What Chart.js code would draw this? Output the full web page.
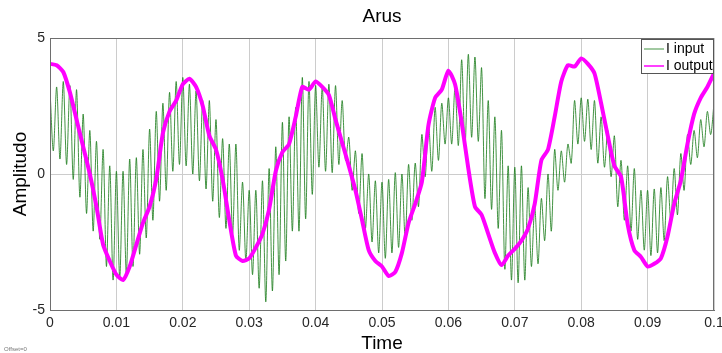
<!DOCTYPE html>
<html>
<head>
<meta charset="utf-8">
<script src="https://cdn.jsdelivr.net/npm/chart.js@4.4.1/dist/chart.umd.min.js"></script>
<style>
  html, body { margin: 0; padding: 0; background: #fff; }
</style>
</head>
<body>
<canvas id="arusChart" width="722" height="353"></canvas>
<script>
// Axis ticks
const timeTicks = [0, 0.01, 0.02, 0.03, 0.04, 0.05, 0.06, 0.07, 0.08, 0.09, 0.1];
const ampTicks = [-5, 0, 5];

// I input - tops of the fast ripple, one per ms (t = 0 .. 0.1)
const inputTops = [
  3.1, 3.2, 3.4, 3.25, 3.1, 2.2, 1.6, 1.2, 0.9, 0.3,
  0.1, 0.1, 0.55, 0.6, 0.9, 1.65, 2.3, 2.6, 3.0, 3.4,
  3.55, 3.3, 3.05, 2.7, 2.7, 2.0, 1.3, 1.1, 1.1, -0.3,
  -0.6, -0.6, -0.25, 0.2, 1.0, 1.9, 2.1, 2.45, 3.55, 3.4,
  3.25, 3.2, 3.3, 3.25, 2.7, 1.35, 0.85, 0.75, 0.0, -0.25,
  -0.3, -0.2, 0.05, 0.0, 0.35, 0.4, 1.45, 1.9, 2.45, 2.6,
  2.8, 3.2, 4.2, 4.4, 4.3, 3.9, 2.7, 2.1, 1.6, 0.3,
  0.25, 0.3, -0.5, -1.2, -0.9, 0.0, 0.9, 0.85, 1.1, 2.7,
  2.8, 2.75, 2.7, 2.1, 1.6, 1.4, 0.5, 0.3, 0.2, -0.6,
  -0.6, -0.55, -0.5, -0.1, 0.2, 0.75, 1.45, 1.6, 2.0, 2.3,
  2.6
];
// I input - bottoms of the fast ripple, half a ms after each top
const inputBottoms = [
  0.85, 0.55, 0.35, -0.2, -0.85, -1.45, -2.1, -2.4, -3.4, -3.9,
  -3.85, -3.7, -3.4, -2.95, -2.35, -1.7, -1.0, -0.6, 0.1, 0.35,
  0.3, 0.0, -0.25, -0.55, -1.0, -1.6, -2.0, -2.2, -2.8, -3.2,
  -3.7, -4.2, -4.7, -4.3, -3.7, -3.2, -2.1, -2.1, -1.65, -0.75,
  0.25, 0.1, 0.05, 0.35, 0.5, -0.6, -1.45, -2.0, -2.5, -2.9,
  -3.1, -2.9, -2.7, -2.4, -1.7, -1.2, -0.1, 0.1, 0.5, 1.1,
  1.1, 1.05, 1.0, 1.35, 1.2, -0.9, -1.3, -2.0, -3.5, -3.9,
  -4.0, -3.9, -3.4, -3.3, -2.45, -2.1, -0.6, -0.3, 0.4, 1.1,
  1.2, 0.9, 0.4, 0.25, -0.1, -1.2, -1.7, -2.1, -2.4, -2.8,
  -3.0, -2.9, -2.45, -1.7, -1.5, -0.6, 0.35, 0.6, 1.0, 1.45
];
// I output, one value per ms (t = 0 .. 0.1)
const outputVals = [
  4.05, 4.0, 3.75, 3.0, 2.0, 1.0, 0.0, -1.2, -2.6, -3.2,
  -3.7, -3.9, -3.4, -2.6, -1.8, -1.2, -0.2, 1.5, 2.3, 2.7,
  3.3, 3.5, 3.2, 2.5, 1.4, 0.9, -0.2, -1.7, -3.0, -3.2,
  -3.1, -2.7, -2.2, -1.3, 0.1, 0.8, 1.1, 2.1, 3.2, 3.1,
  3.4, 3.2, 2.9, 2.0, 1.15, 0.3, -0.6, -1.7, -2.8, -3.2,
  -3.4, -3.75, -3.6, -2.9, -1.8, -1.1, -0.3, 1.8, 2.8, 3.1,
  3.8, 3.3, 1.9, 0.2, -1.2, -1.5, -2.2, -2.9, -3.35, -3.0,
  -2.75, -2.45, -2.0, -1.1, 0.5, 0.9, 2.1, 3.4, 4.0, 3.95,
  4.25, 4.05, 3.7, 2.6, 1.4, 0.3, -0.1, -1.85, -2.8, -3.05,
  -3.4, -3.3, -3.1, -2.3, -1.1, -0.25, 1.1, 2.2, 2.8, 3.2,
  3.7
];

const step = 0.001;
const inputPts = [];
inputTops.forEach((v, i) => {
  inputPts.push({ x: i * step, y: v });
  if (i < inputBottoms.length) inputPts.push({ x: i * step + step / 2, y: inputBottoms[i] });
});
const outputPts = outputVals.map((v, i) => ({ x: i * step, y: v }));

const inputColor = 'rgba(20, 120, 20, 0.8)';
const outputColor = '#ff00ff';
const fontFam = '"Liberation Sans", Arial, sans-serif';

// frame, title and legend drawn on top like the matlab figure
const figurePlugin = {
  id: 'figure',
  afterDraw(chart) {
    const { ctx, chartArea: a } = chart;
    ctx.save();
    ctx.strokeStyle = '#6e6e6e';
    ctx.lineWidth = 1;
    ctx.strokeRect(a.left + 0.5, a.top + 0.5, a.right - a.left - 1, a.bottom - a.top);

    ctx.fillStyle = '#000';
    ctx.font = '19px ' + fontFam;
    ctx.textAlign = 'center';
    ctx.textBaseline = 'middle';
    ctx.fillText('Arus', (a.left + a.right) / 2, 17);

    // legend box
    const w = 73, h = 35;
    const lx = a.right - w, ly = a.top + 1;
    ctx.fillStyle = '#fff';
    ctx.fillRect(lx, ly, w, h);
    ctx.strokeStyle = '#555';
    ctx.strokeRect(lx + 0.5, ly + 0.5, w - 1, h - 1);
    const rows = [['I input', inputColor, 1], ['I output', outputColor, 1.5]];
    ctx.font = '14px ' + fontFam;
    ctx.textAlign = 'left';
    rows.forEach((r, k) => {
      const yy = ly + 10 + k * 17;
      ctx.strokeStyle = r[1];
      ctx.lineWidth = r[2];
      ctx.beginPath();
      ctx.moveTo(lx + 3, yy);
      ctx.lineTo(lx + 23, yy);
      ctx.stroke();
      ctx.fillStyle = '#000';
      ctx.fillText(r[0], lx + 25, yy);
    });

    ctx.fillStyle = '#777';
    ctx.font = '6px ' + fontFam;
    ctx.fillText('Offset=0', 4, 349);
    ctx.restore();
  }
};

const ctx = document.getElementById('arusChart').getContext('2d');
const arusChart = new Chart(ctx, {
  type: 'line',
  data: {
    datasets: [
      {
        label: 'I input',
        data: inputPts,
        borderColor: inputColor,
        borderWidth: 1,
        pointRadius: 0,
        tension: 0.3,
        order: 2
      },
      {
        label: 'I output',
        data: outputPts,
        borderColor: outputColor,
        borderWidth: 4,
        pointRadius: 0,
        tension: 0.2,
        order: 1
      }
    ]
  },
  options: {
    responsive: false,
    animation: false,
    devicePixelRatio: 1,
    layout: { padding: { top: 38, right: 8 } },
    plugins: {
      legend: { display: false },
      title: { display: false },
      tooltip: { enabled: false }
    },
    scales: {
      x: {
        type: 'linear',
        min: 0,
        max: 0.1,
        afterBuildTicks: s => { s.ticks = timeTicks.map(v => ({ value: v })); },
        afterFit: s => { s.height = 43; s.paddingRight = 0; s.paddingLeft = 0; },
        ticks: {
          callback: v => String(+v.toFixed(2)),
          font: { family: fontFam, size: 14 },
          color: '#262626',
          padding: 5,
          maxRotation: 0,
          autoSkip: false
        },
        grid: { color: '#cccccc', drawTicks: false },
        border: { color: '#6e6e6e' },
        title: {
          display: true,
          text: 'Time',
          font: { family: fontFam, size: 19, lineHeight: 1 },
          color: '#000',
          padding: { top: 0, bottom: 0 }
        }
      },
      y: {
        min: -5,
        max: 5,
        afterBuildTicks: s => { s.ticks = ampTicks.map(v => ({ value: v })); },
        afterFit: s => { s.width = 50; },
        ticks: {
          font: { family: fontFam, size: 14 },
          color: '#262626',
          padding: 5
        },
        grid: { color: '#cccccc', drawTicks: false },
        border: { color: '#6e6e6e' },
        title: {
          display: true,
          text: 'Amplitudo',
          font: { family: fontFam, size: 19, lineHeight: 1 },
          color: '#000',
          padding: { top: 11, bottom: 0 }
        }
      }
    }
  },
  plugins: [figurePlugin]
});
</script>
</body>
</html>
